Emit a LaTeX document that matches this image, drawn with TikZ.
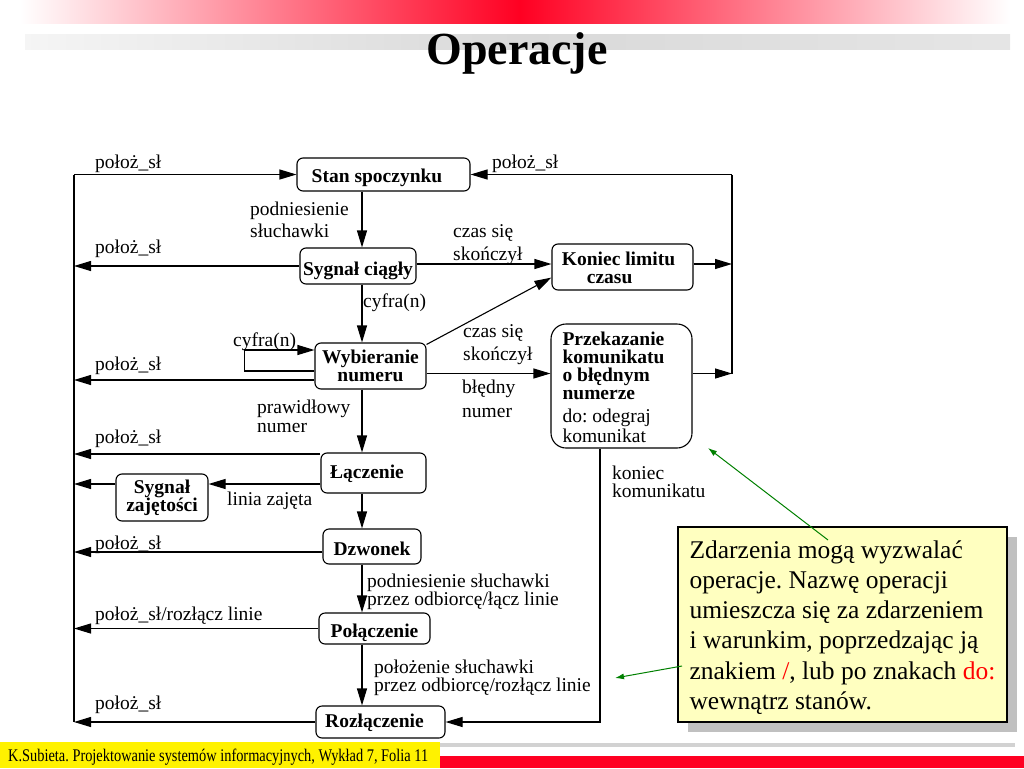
\documentclass[tikz,border=0pt]{standalone}
\usepackage{fontspec}
\setmainfont{Liberation Serif}
\usetikzlibrary{arrows.meta,calc,shadows}
\definecolor{topred}{RGB}{255,0,34}
\definecolor{noteyellow}{RGB}{255,255,192}
\definecolor{notegreen}{RGB}{0,128,0}
\definecolor{shadowgray}{RGB}{192,192,192}
\newcommand{\rowsL}[2]{\vtop{\baselineskip=#1\lineskiplimit=-100pt\lineskip=0pt\halign{##\hfil\cr#2\crcr}}}
\newcommand{\rowsC}[2]{\vtop{\baselineskip=#1\lineskiplimit=-100pt\lineskip=0pt\halign{\hfil##\hfil\cr#2\crcr}}}
\frenchspacing
\begin{document}
\begin{tikzpicture}[x=1pt,y=-1pt,
  stbox/.style={draw, rounded corners=6pt, line width=1.1pt, inner sep=0pt,
    font=\fontsize{19.5}{18}\selectfont\bfseries},
  lab/.style={anchor=base west, inner sep=0pt, font=\fontsize{19.5}{23}\selectfont},
  ln/.style={line width=1.1pt},
  arr/.style={line width=1.1pt, -{Triangle[length=17pt,width=10pt]}},
  garr/.style={line width=1pt, draw=notegreen, -{Latex[length=9pt,width=6pt]}, notegreen}
]
\useasboundingbox (0,0) rectangle (1024,768);
% header
\shade[left color=white, right color=topred] (20,0) rectangle (520,24);
\shade[left color=topred, right color=white] (520,0) rectangle (1010,24);
\shade[left color=gray!8, right color=gray!30] (25,35) rectangle (520,50);
\shade[left color=gray!30, right color=gray!20] (520,35) rectangle (1010,50);
\node[anchor=base, inner sep=0pt, font=\fontsize{46}{50}\selectfont\bfseries] (title) at (517,64) {Operacje};
% footer
\fill[yellow] (0,742) rectangle (440,768);
\fill[gray!35] (440,743) rectangle (1015,747);
\fill[topred] (440,756) rectangle (1024,768);
\node[anchor=base west, inner sep=0pt] (foot) at (8,761) {\resizebox{420pt}{12.5pt}{\fontsize{16}{16}\selectfont K.Subieta. Projektowanie systemów informacyjnych, Wykład 7, Folia 11}};

% states
\node[stbox, minimum width=173pt, text height=24pt, text depth=9pt] (Stan) at (383.5,174.5) {Stan spoczynku\kern13pt};
\node[stbox, minimum width=116pt, text height=27pt, text depth=9pt] (Syg) at (358,266) {Sygnał ciągły};
\node[stbox, minimum width=141pt, text height=21pt, text depth=25pt] (Kon) at (622.5,267) {\rowsL{18pt}{Koniec limitu\cr\hspace*{25pt}czasu}\kern8pt};
\node[stbox, rounded corners=15pt, minimum width=141pt, text height=21pt, text depth=103pt] (Prz) at (621.5,386) {\rowsL{18.3pt}{Przekazanie\cr komunikatu\cr o błędnym\cr numerze\cr\noalign{\kern4.5pt}\mdseries do: odegraj\cr\noalign{\kern1.7pt}\mdseries komunikat}\kern16pt};
\node[stbox, minimum width=111pt, text height=20pt, text depth=26pt] (Wyb) at (370.5,366) {\rowsC{18pt}{Wybieranie\cr numeru}};
\node[stbox, minimum width=105pt, text height=25pt, text depth=15pt] (Lacz) at (373.5,473) {Łączenie\kern13pt};
\node[stbox, minimum width=92pt, text height=19.5pt, text depth=27.5pt] (Zaj) at (162,497.5) {\rowsC{18pt}{Sygnał\cr zajętości}};
\node[stbox, minimum width=98pt, text height=26pt, text depth=9pt] (Dzw) at (372,546.5) {Dzwonek};
\node[stbox, minimum width=111pt, text height=24pt, text depth=7pt] (Pol) at (374.5,628.5) {Połączenie};
\node[stbox, minimum width=129pt, text height=21pt, text depth=11pt] (Roz) at (380.5,722) {Rozłączenie\kern12pt};

% helper coordinates
\coordinate (Lx) at (74,0);
\coordinate (Rx) at (732,0);
\coordinate (Cx) at (362,0);
\coordinate (Px) at (600,0);
\coordinate (r1) at (0,174.5);
\coordinate (r2) at (0,266);
\coordinate (r3) at (0,380);
\coordinate (r4) at (0,454);
\coordinate (r5) at (0,484);
\coordinate (r6) at (0,552);
\coordinate (r7) at (0,628.5);
\coordinate (r8) at (0,722);
\coordinate (rK) at (0,264);
\coordinate (rP) at (0,373.5);

% left bus
\draw[ln] (Lx |- r1) -- (Lx |- r8);
\draw[arr] (Lx |- r1) -- (Stan.west);
\draw[arr] (Syg.west) -- (Lx |- r2);
\draw[arr] (Wyb.west |- r3) -- (Lx |- r3);
\draw[arr] (Lacz.west |- r4) -- (Lx |- r4);
\draw[arr] (Lacz.west |- r5) -- (Zaj.east |- r5);
\draw[arr] (Zaj.west |- r5) -- (Lx |- r5);
\draw[arr] (Dzw.west |- r6) -- (Lx |- r6);
\draw[arr] (Pol.west) -- (Lx |- r7);
\draw[arr] (Roz.west) -- (Lx |- r8);
% right bus
\draw[ln] (Rx |- rP) -- (Rx |- r1);
\draw[arr] (Rx |- r1) -- (Stan.east);
\draw[arr] (Kon.east |- rK) -- (Rx |- rK);
\draw[arr] (Prz.east |- rP) -- (Rx |- rP);
% main flow
\draw[arr] (Cx |- Stan.south) -- (Cx |- Syg.north);
\draw[arr] (Cx |- Syg.south) -- (Cx |- Wyb.north);
\draw[arr] (Cx |- Wyb.south) -- (Cx |- Lacz.north);
\draw[arr] (Cx |- Lacz.south) -- (Cx |- Dzw.north);
\draw[arr] (Cx |- Dzw.south) -- (Cx |- Pol.north);
\draw[arr] (Cx |- Pol.south) -- (Cx |- Roz.north);
\draw[arr] (Syg.east |- rK) -- (Kon.west |- rK);
\draw[arr] (Wyb.east |- rP) -- (Prz.west |- rP);
\draw[arr] ($(Wyb.north east)+(0,2)$) -- ($(Kon.south west)+(0,-13)$);
\draw[arr] ($(Wyb.west)+(0,5)$) -- ++(-70,0) -- ++(0,-21) -- ($(Wyb.west)+(0,-16)$);
\draw[arr] (Px |- Prz.south) -- (Px |- r8) -- (Roz.east |- r8);

% labels
\node[lab] (l1) at (95,168) {położ\_sł};
\node[lab] (l2) at (492,168) {położ\_sł};
\node[lab] (l3) at (95,253) {położ\_sł};
\node[lab] (l4) at (95,370) {położ\_sł};
\node[lab] (l5) at (95,443) {położ\_sł};
\node[lab] (l6) at (95,549) {położ\_sł};
\node[lab] (l7) at (95,620) {położ\_sł/rozłącz linie};
\node[lab] (l8) at (95,709) {położ\_sł};
\node[lab] (t1) at (250,215) {\rowsL{22pt}{podniesienie\cr słuchawki}};
\node[lab] (t2) at (453,237) {\rowsL{23pt}{czas się\cr skończył}};
\node[lab] (t3) at (363,307) {cyfra(n)};
\node[lab] (t4) at (463,337) {\rowsL{23pt}{czas się\cr skończył}};
\node[lab] (t5) at (462,393) {\rowsL{24.5pt}{błędny\cr numer}};
\node[lab] (t6) at (233,346) {cyfra(n)};
\node[lab] (t7) at (257,413) {\rowsL{19pt}{prawidłowy\cr numer}};
\node[lab] (t8) at (227,505) {linia zajęta};
\node[lab] (t9) at (367,587) {\rowsL{18pt}{podniesienie słuchawki\cr przez odbiorcę/łącz linie}};
\node[lab] (t10) at (374,673) {\rowsL{18pt}{położenie słuchawki\cr przez odbiorcę/rozłącz linie}};
\node[lab] (t11) at (612,479) {\rowsL{18pt}{koniec\cr komunikatu}};

% note
\node[draw, line width=1.1pt, fill=noteyellow, inner sep=0pt, minimum width=329pt,
  text height=31pt, text depth=164pt,
  drop shadow={shadow xshift=10pt, shadow yshift=-10pt, fill=shadowgray, opacity=1},
  font=\fontsize{25.5}{30.3}\selectfont] (note) at (842.5,624.5)
  {\rowsL{30.3pt}{Zdarzenia mogą wyzwalać\cr operacje. Nazwę operacji\cr umieszcza się za zdarzeniem\cr i warunkim, poprzedzając ją\cr znakiem \textcolor{red}{/}, lub po znakach \textcolor{red}{do:}\cr wewnątrz stanów.}};
\coordinate (g1s) at (828,540);
\coordinate (g1e) at (708,448);
\coordinate (g2s) at (682,666);
\coordinate (g2e) at (615,678);
\draw[garr] (g1s) -- (g1e);
\draw[garr] (g2s) -- (g2e);
\end{tikzpicture}
\end{document}
